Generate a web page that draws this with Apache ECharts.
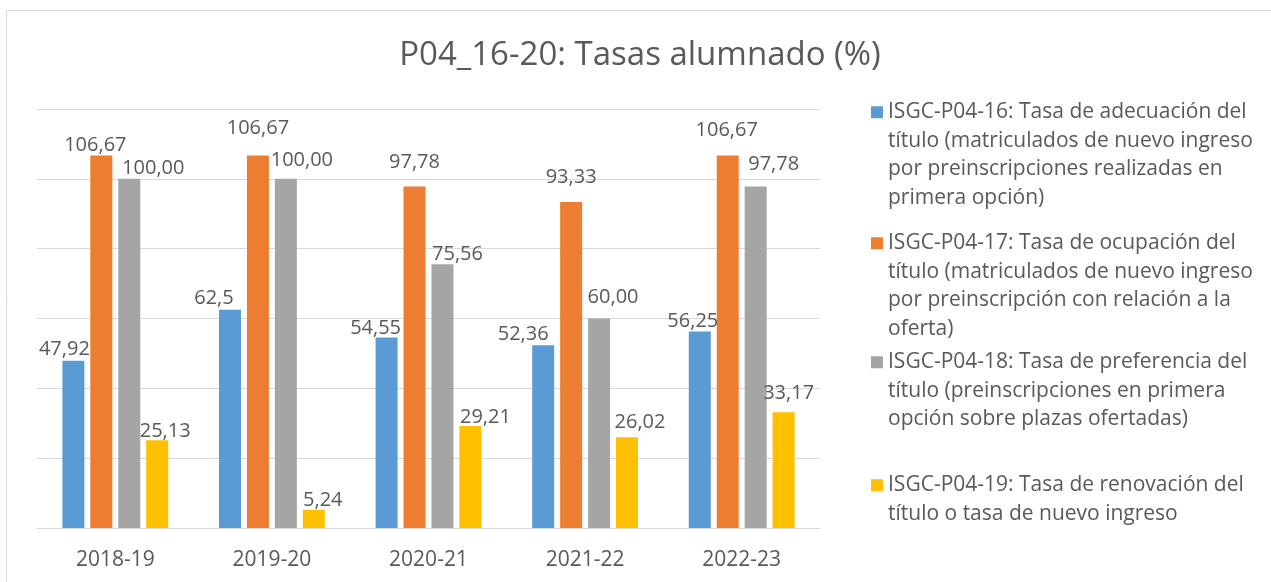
<!DOCTYPE html>
<html>
<head>
<meta charset="utf-8">
<title>P04_16-20: Tasas alumnado (%)</title>
<script src="https://cdn.jsdelivr.net/npm/echarts@6/dist/echarts.min.js"></script>
<style>
    html, body { margin: 0; padding: 0; background: #fff; }
    #chart { width: 1271px; height: 582px; }
</style>
</head>
<body>
<div id="chart"></div>
<script>
// cursos
var cursos = ['2018-19', '2019-20', '2020-21', '2021-22', '2022-23']

// valores tal y como salen en las etiquetas (coma decimal)
var p16 = ['47,92', '62,5', '54,55', '52,36', '56,25']
var p17 = ['106,67', '106,67', '97,78', '93,33', '106,67']
var p18 = ['100,00', '100,00', '75,56', '60,00', '97,78']
var p19 = ['25,13', '5,24', '29,21', '26,02', '33,17']

var nombres = [
    'ISGC-P04-16: Tasa de adecuación del título (matriculados de nuevo ingreso por preinscripciones realizadas en primera opción)',
    'ISGC-P04-17: Tasa de ocupación del título (matriculados de nuevo ingreso por preinscripción con relación a la oferta)',
    'ISGC-P04-18: Tasa de preferencia del título (preinscripciones en primera opción sobre plazas ofertadas)',
    'ISGC-P04-19: Tasa de renovación del título o tasa de nuevo ingreso'
]
// lineas de la leyenda, como en el original
var lineasLeyenda = [
    ['ISGC-P04-16: Tasa de adecuación del', 'título (matriculados de nuevo ingreso', 'por preinscripciones realizadas en', 'primera opción)'],
    ['ISGC-P04-17: Tasa de ocupación del', 'título (matriculados de nuevo ingreso', 'por preinscripción con relación a la', 'oferta)'],
    ['ISGC-P04-18: Tasa de preferencia del', 'título (preinscripciones en primera', 'opción sobre plazas ofertadas)'],
    ['ISGC-P04-19: Tasa de renovación del', 'título o tasa de nuevo ingreso']
]

var colores = ['#5b9bd5', '#ed7d31', '#a5a5a5', '#ffc000']

// desplazamiento de cada etiqueta [dx, dy] (Excel las movio a mano)
var nudge = [
    [[-9, -1], [-16, -1], [-11, 1], [-20, -1], [-7, 0]],
    [[-6, 0], [0, -17], [0, -14], [0, -15], [-1, -15]],
    [[24, -1], [16, -9], [15, 0], [14, -11], [18, -12]],
    [[8, 1], [9, 1], [15, 1], [13, -5], [5, -9]]
]

var texto = '#595959'
var fuente = '"Open Sans", "DejaVu Sans", sans-serif'
var L = 28.5    // alto de linea en la leyenda
var S = 12      // lado del cuadrado de la leyenda
var leyendaTop = [98, 229, 348, 471]

var toNum = function(s) {
    return parseFloat(s.replace(',', '.'))
}

var iconPath = function(n) {
    var h = n * L
    var y0 = (L - S) / 2
    return 'path://M0,0L0.01,0M0,' + y0 + 'h' + S + 'v' + S + 'h-' + S + 'Z' +
        'M0,' + h + 'L0.01,' + h
}

var series = []
var legends = []
var listas = [p16, p17, p18, p19]
for (let k = 0; k < listas.length; k++) {
    let lista = listas[k]
    let data = []
    for (let i = 0; i < lista.length; i++) {
        data.push({
            value: toNum(lista[i]),
            label: { offset: nudge[k][i] }
        })
    }
    series.push({
        name: nombres[k],
        type: 'bar',
        barWidth: 22,
        barGap: '27%',
        itemStyle: { color: colores[k] },
        label: {
            show: true,
            position: 'top',
            distance: 0,
            color: texto,
            fontFamily: fuente,
            fontSize: 20,
            formatter: (function(l) {
                return function(p) { return l[p.dataIndex] }
            })(lista)
        },
        data: data
    })
    legends.push({
        data: [nombres[k]],
        left: 871,
        top: leyendaTop[k],
        orient: 'vertical',
        padding: 0,
        selectedMode: false,
        itemWidth: S,
        itemHeight: lineasLeyenda[k].length * L,
        icon: iconPath(lineasLeyenda[k].length),
        itemStyle: { borderWidth: 0 },
        textStyle: {
            color: texto,
            fontFamily: fuente,
            fontSize: 21,
            lineHeight: L
        },
        formatter: (function(t) {
            return function() { return t.join('\n') }
        })(lineasLeyenda[k])
    })
}

var option = {
    backgroundColor: '#fff',
    animation: false,
    title: {
        text: 'P04_16-20: Tasas alumnado (%)',
        left: 640,
        top: 39,
        padding: 0,
        textAlign: 'center',
        textStyle: {
            color: texto,
            fontFamily: fuente,
            fontSize: 33,
            fontWeight: 'normal'
        }
    },
    graphic: [{
        type: 'rect',
        silent: true,
        shape: { x: 6.5, y: 10.5, width: 1400, height: 700 },
        style: { fill: 'none', stroke: '#d9d9d9', lineWidth: 1 }
    }],
    legend: legends,
    grid: {
        left: 37,
        right: 451,
        top: 109,
        bottom: 54
    },
    xAxis: {
        type: 'category',
        data: cursos,
        axisTick: { show: false },
        axisLine: { lineStyle: { color: '#d9d9d9', width: 1 } },
        axisLabel: {
            color: texto,
            fontFamily: fuente,
            fontSize: 21,
            margin: 22
        }
    },
    yAxis: {
        type: 'value',
        min: 0,
        max: 120,
        interval: 20,
        axisLabel: { show: false },
        axisLine: { show: false },
        axisTick: { show: false },
        splitLine: { lineStyle: { color: '#d9d9d9', width: 1 } }
    },
    series: series
}

echarts.init(document.getElementById('chart')).setOption(option)
</script>
</body>
</html>
